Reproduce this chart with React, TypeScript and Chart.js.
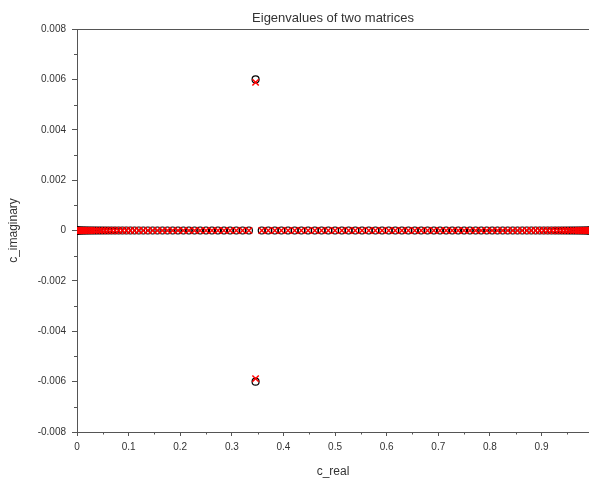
import React, { useEffect, useRef } from "react";
import { Chart, registerables } from "chart.js";

Chart.register(...registerables);

const chartTitle = "Eigenvalues of two matrices";
const xAxisTitle = "c_real";
const yAxisTitle = "c_imaginary";

// real eigenvalues (imaginary part 0), shared by both matrices
const realEigenvalues = [
  0, 0.00017, 0.00069, 0.00154, 0.00274, 0.00428, 0.00616, 0.00837, 0.01093, 0.01382,
  0.01704, 0.02059, 0.02447, 0.02868, 0.03321, 0.03806, 0.04323, 0.04871, 0.0545, 0.06059,
  0.06699, 0.07368, 0.08066, 0.08793, 0.09549, 0.10332, 0.11143, 0.1198, 0.12843, 0.13731,
  0.14645, 0.15582, 0.16543, 0.17528, 0.18534, 0.19562, 0.20611, 0.2168, 0.22768, 0.23875,
  0.25, 0.26142, 0.273, 0.28474, 0.29663, 0.30866, 0.32082, 0.33309, 0.35799, 0.37059,
  0.38328, 0.39604, 0.40888, 0.42178, 0.43474, 0.44774, 0.46077, 0.47383, 0.48691, 0.5,
  0.51309, 0.52617, 0.53923, 0.55226, 0.56526, 0.57822, 0.59112, 0.60396, 0.61672, 0.62941,
  0.64201, 0.65451, 0.66691, 0.67918, 0.69134, 0.70337, 0.71526, 0.727, 0.73858, 0.75,
  0.76125, 0.77232, 0.7832, 0.79389, 0.80438, 0.81466, 0.82472, 0.83457, 0.84418, 0.85355,
  0.86269, 0.87157, 0.8802, 0.88857, 0.89668, 0.90451, 0.91207, 0.91934, 0.92632, 0.93301,
  0.93941, 0.9455, 0.95129, 0.95677, 0.96194, 0.96679, 0.97132, 0.97553, 0.97941, 0.98296,
  0.98618, 0.98907, 0.99163, 0.99384, 0.99572, 0.99726, 0.99846, 0.99931, 0.99983, 1,
];

// complex pair of matrix A (circles) and matrix B (crosses)
const complexA = [
  { x: 0.346, y: 0.006 },
  { x: 0.346, y: -0.006 },
];
const complexB = [
  { x: 0.346, y: 0.00588 },
  { x: 0.346, y: -0.00588 },
];

const xMin = 0;
const xMax = 0.992;
const yMin = -0.008;
const yMax = 0.008;
const xStep = 0.1;
const yStep = 0.002;

const FONT = "'Liberation Sans', Arial, sans-serif";
const AXIS_COLOR = "#555555";
const TEXT_COLOR = "#333333";

const decorPlugin = {
  id: "decor",
  afterDraw(chart: any) {
    const { ctx, chartArea, scales } = chart;
    const xs = scales.x;
    const ys = scales.y;
    ctx.save();
    ctx.strokeStyle = AXIS_COLOR;
    ctx.lineWidth = 1;
    // top border
    ctx.beginPath();
    ctx.moveTo(chartArea.left, Math.round(chartArea.top) + 0.5);
    ctx.lineTo(chart.width, Math.round(chartArea.top) + 0.5);
    ctx.stroke();
    // minor x ticks
    ctx.beginPath();
    for (let v = xMin + xStep / 2; v < xMax; v += xStep) {
      const px = Math.round(xs.getPixelForValue(v)) + 0.5;
      ctx.moveTo(px, chartArea.bottom);
      ctx.lineTo(px, chartArea.bottom + 2.5);
    }
    // minor y ticks
    for (let v = yMin + yStep / 2; v < yMax; v += yStep) {
      const py = Math.round(ys.getPixelForValue(v)) + 0.5;
      ctx.moveTo(chartArea.left, py);
      ctx.lineTo(chartArea.left - 3, py);
    }
    ctx.stroke();
    // title
    ctx.fillStyle = TEXT_COLOR;
    ctx.font = `13px ${FONT}`;
    ctx.textAlign = "center";
    ctx.textBaseline = "middle";
    ctx.fillText(chartTitle, (chartArea.left + chartArea.right) / 2, 18);
    ctx.restore();
  },
};

export default function App() {
  const canvasRef = useRef<HTMLCanvasElement | null>(null);

  useEffect(() => {
    document.body.style.margin = "0";
    const canvas = canvasRef.current;
    if (!canvas) return;
    const realPoints = realEigenvalues.map((x) => ({ x, y: 0 }));
    const chart = new Chart(canvas, {
      type: "scatter",
      data: {
        datasets: [
          {
            label: "B",
            data: [...realPoints, ...complexB],
            pointStyle: "crossRot",
            pointRadius: 4.5,
            pointBorderWidth: 1.5,
            borderColor: "#ff0000",
            backgroundColor: "#ff0000",
            order: 0,
          },
          {
            label: "A",
            data: [...realPoints, ...complexA],
            pointStyle: "circle",
            pointRadius: 3.5,
            pointBorderWidth: 1.2,
            borderColor: "#000000",
            backgroundColor: "rgba(0,0,0,0)",
            order: 1,
          },
        ],
      },
      options: {
        responsive: false,
        animation: false,
        layout: { autoPadding: false, padding: { top: 29, right: 0, left: 0, bottom: 0 } },
        plugins: {
          legend: { display: false },
          tooltip: { enabled: false },
          title: { display: false },
        },
        scales: {
          x: {
            type: "linear",
            min: xMin,
            max: xMax,
            afterFit(scale: any) {
              scale.height = 46;
              scale.paddingLeft = 0;
              scale.paddingRight = 0;
            },
            border: { display: true, color: AXIS_COLOR, width: 1 },
            grid: {
              display: true,
              drawOnChartArea: false,
              drawTicks: true,
              tickLength: 4,
              tickColor: AXIS_COLOR,
            },
            ticks: {
              stepSize: xStep,
              includeBounds: false,
              autoSkip: false,
              maxRotation: 0,
              padding: 5,
              color: TEXT_COLOR,
              font: { family: FONT, size: 10 },
              callback: (v: any) => {
                const n = Number(Number(v).toFixed(1));
                return (n === 0 ? 0 : n).toString();
              },
            },
            title: {
              display: true,
              text: xAxisTitle,
              color: TEXT_COLOR,
              font: { family: FONT, size: 12 },
              padding: { top: 0, bottom: -1 },
            },
          },
          y: {
            type: "linear",
            min: yMin,
            max: yMax,
            afterFit(scale: any) {
              scale.width = 77;
              scale.paddingTop = 0;
              scale.paddingBottom = 0;
            },
            border: { display: true, color: AXIS_COLOR, width: 1 },
            grid: {
              display: true,
              drawOnChartArea: false,
              drawTicks: true,
              tickLength: 5,
              tickColor: AXIS_COLOR,
            },
            ticks: {
              stepSize: yStep,
              includeBounds: false,
              autoSkip: false,
              padding: 6,
              color: TEXT_COLOR,
              font: { family: FONT, size: 10 },
              callback: (v: any) => {
                const n = Number(Number(v).toFixed(3));
                return (n === 0 ? 0 : n).toString();
              },
            },
            title: {
              display: true,
              text: yAxisTitle,
              color: TEXT_COLOR,
              font: { family: FONT, size: 12 },
              padding: { top: 6, bottom: 0 },
            },
          },
        },
      },
      plugins: [decorPlugin],
    });
    return () => chart.destroy();
  }, []);

  return (
    <div style={{ width: 589, height: 478, background: "#ffffff", overflow: "hidden" }}>
      <canvas ref={canvasRef} width={589} height={478} style={{ display: "block" }} />
    </div>
  );
}
